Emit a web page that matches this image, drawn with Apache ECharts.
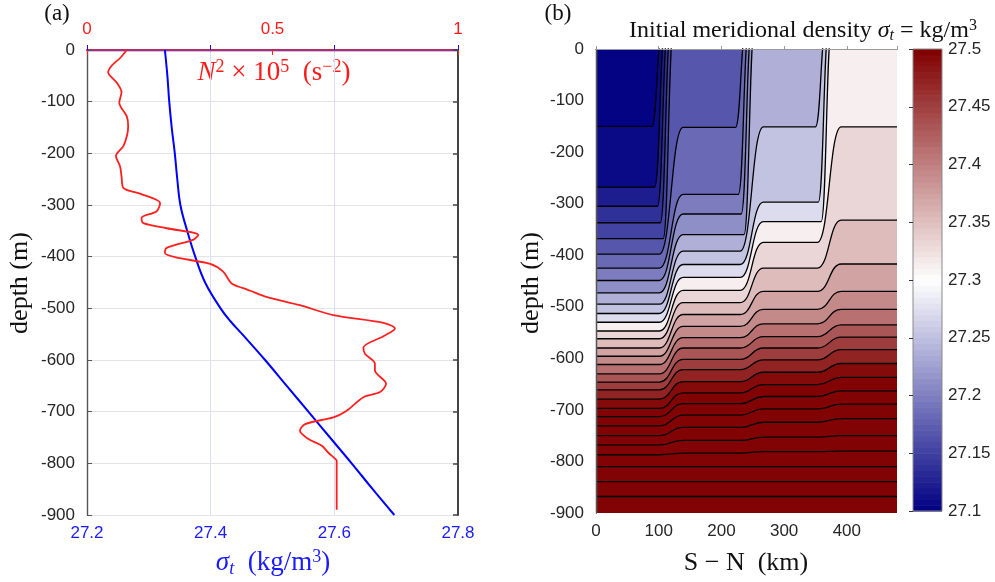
<!DOCTYPE html>
<html>
<head>
<meta charset="utf-8">
<script src="https://cdn.jsdelivr.net/npm/echarts@6/dist/echarts.min.js"></script>
<style>
  html, body { margin: 0; padding: 0; background: #fff; }
  #chart { width: 995px; height: 582px; }
</style>
</head>
<body>
<div id="chart"></div>
<script>
// ---------- Panel (a): reference stratification profile ----------
const profileDepth = [0, 50, 100, 150, 200, 250, 300, 350, 400, 450, 500, 525, 550, 600, 650, 700, 750, 800, 850, 900];
const sigmaT = [27.326, 27.330, 27.333, 27.337, 27.342, 27.346, 27.351, 27.362, 27.375, 27.391, 27.416, 27.432, 27.451, 27.488, 27.523, 27.558, 27.593, 27.628, 27.662, 27.697];

const n2Depth = [0, 15, 30, 43, 63, 82, 102, 128, 147, 165, 186, 205, 225, 244, 267, 278, 296, 312, 325, 335,
  345, 358, 367, 383, 393, 403, 414, 429, 452, 461, 466, 478, 494, 513, 528, 539, 554, 576, 588, 607,
  620, 646, 662, 672, 698, 711, 724, 737, 753, 766, 779, 792, 795, 890];
const n2Values = [0.107, 0.090, 0.067, 0.057, 0.080, 0.093, 0.087, 0.107, 0.111, 0.108, 0.098, 0.078, 0.089, 0.093, 0.098, 0.143, 0.197, 0.188, 0.147, 0.152,
  0.215, 0.300, 0.287, 0.215, 0.210, 0.251, 0.332, 0.367, 0.390, 0.421, 0.440, 0.484, 0.574, 0.664, 0.799, 0.830, 0.799, 0.745, 0.749, 0.776,
  0.776, 0.806, 0.790, 0.745, 0.700, 0.664, 0.588, 0.574, 0.597, 0.633, 0.650, 0.670, 0.673, 0.673];

// ---------- Panel (b): isopycnal depths (m), shallowest first, in the four zones between fronts ----------
// null = the surface has already become denser than this isopycnal (it has outcropped further south)
const zone1Depth = [150, 268, 305, 337, 368, 398, 425, 449, 473, 495, 513, 530, 547, 562, 580, 596, 612, 630, 646, 661, 679, 697, 713, 731, 750, 768, 787, 810, 839, 868];
const zone2Depth = [null, null, null, null, null, 152, 282, 320, 360, 392, 418, 443, 468, 492, 515, 538, 560, 580, 602, 622, 645, 667, 688, 710, 734, 759, 784, 810, 839, 868];
const zone3Depth = [null, null, null, null, null, null, null, null, null, 151, 297, 335, 375, 425, 470, 505, 533, 558, 580, 603, 627, 651, 674, 698, 724, 753, 781, 810, 839, 868];
const zone4Depth = [null, null, null, null, null, null, null, null, null, null, null, null, 151, 332, 417, 470, 505, 535, 559, 583, 610, 637, 663, 689, 717, 750, 780, 810, 839, 868];
// sigma_t of the water lying just beneath each isopycnal, and of the lightest surface water
const bandSigma = [27.105, 27.12, 27.135, 27.15, 27.168, 27.18, 27.195, 27.21, 27.235, 27.25, 27.27, 27.31, 27.33, 27.35, 27.37, 27.39, 27.41, 27.43, 27.45, 27.47, 27.49, 27.51, 27.52, 27.53, 27.54, 27.55, 27.56, 27.57, 27.58, 27.59];
const surfaceSigma = 27.095;
// S-N extent (km) of the three frontal transitions
const frontSpans = [[101, 139], [230, 267], [353, 391]];
const sectionLength = 480;

// colour scale
const cbarMin = 27.1, cbarMax = 27.5, cbarStep = 0.005;

const SANS = '"Liberation Sans", Arial, sans-serif';
const SERIF = '"Liberation Serif", "Times New Roman", serif';
const INK = '#262626';

function sigmaColor(v) {
  let k = Math.floor((v - cbarMin) / cbarStep + 1e-6);
  k = Math.max(0, Math.min(Math.round((cbarMax - cbarMin) / cbarStep) - 1, k));
  const q = cbarMin + (k + 0.5) * cbarStep;
  let t, c0, c1;
  if (q <= 27.3) { t = (q - 27.1) / 0.2; c0 = [0, 0, 130]; c1 = [255, 255, 255]; }
  else { t = (q - 27.3) / 0.2; c0 = [255, 255, 255]; c1 = [128, 0, 0]; }
  return 'rgb(' + c0.map((a, i) => Math.round(a + (c1[i] - a) * t)).join(',') + ')';
}

const zones = [zone1Depth, zone2Depth, zone3Depth, zone4Depth];
const ABOVE_SURFACE = 40;   // outcropped parts run just above the sea surface (clipped)

// isopycnals that outcrop inside a front rise earlier and more steeply; the lightest ones furthest south
function outcropRank(i, k) {
  let r = 0;
  for (let j = i + 1; j < zone1Depth.length; j++) {
    if (zones[k][j] != null && zones[k + 1][j] == null) r++;
  }
  return r;
}
function isopycnalPath(i) {
  const y = zones.map(z => (z[i] == null ? ABOVE_SURFACE : -z[i]));
  const pts = [[0, y[0]]];
  frontSpans.forEach((f, k) => {
    let a = f[0], b = f[1];
    if (zones[k][i] != null && zones[k + 1][i] == null) {
      const r = outcropRank(i, k);
      a = f[0] + 6 - 4.5 * r;
      b = a + 17;
    }
    pts.push([a, y[k]]);
    pts.push([b, y[k + 1]]);
  });
  pts.push([sectionLength, y[3]]);
  return pts;
}

const series = [];
// panel (a)
series.push({
  type: 'line', xAxisIndex: 0, yAxisIndex: 0, symbol: 'none', smooth: 0.4, z: 4, silent: true,
  data: profileDepth.map((d, i) => [sigmaT[i], -d]),
  lineStyle: { color: '#0000ff', width: 2 }
});
series.push({
  type: 'line', xAxisIndex: 1, yAxisIndex: 0, symbol: 'none', smooth: 0.3, z: 5, silent: true,
  data: n2Depth.map((d, i) => [n2Values[i], -d]),
  lineStyle: { color: '#ff1f1f', width: 1.8 }
});
// panel (b): layer fills, lightest first so each denser layer paints over the one above
zone1Depth.forEach((_, i) => {
  series.push({
    type: 'line', xAxisIndex: 2, yAxisIndex: 2, symbol: 'none', smooth: 0.5, smoothMonotone: 'x',
    silent: true, z: 2, data: isopycnalPath(i),
    lineStyle: { width: 0, opacity: 0 },
    areaStyle: { color: sigmaColor(bandSigma[i]), opacity: 1, origin: 'start' }
  });
});
// panel (b): isopycnal contours
zone1Depth.forEach((_, i) => {
  series.push({
    type: 'line', xAxisIndex: 2, yAxisIndex: 2, symbol: 'none', smooth: 0.5, smoothMonotone: 'x',
    silent: true, z: 3, data: isopycnalPath(i),
    lineStyle: { color: '#000', width: 1.3 }
  });
});
// colour bar
const cbarLevels = [];
for (let k = 0; k < Math.round((cbarMax - cbarMin) / cbarStep); k++) cbarLevels.push(+(cbarMin + k * cbarStep).toFixed(3));
series.push({
  type: 'custom', xAxisIndex: 4, yAxisIndex: 4, silent: true, z: 2,
  data: cbarLevels.map(v => [0, v, v + cbarStep]),
  encode: { x: 0, y: [1, 2] },
  renderItem: function (params, api) {
    const lo = api.value(1), hi = api.value(2);
    const pTop = api.coord([0, hi]);
    const pBot = api.coord([1, lo]);
    return {
      type: 'rect',
      shape: { x: pTop[0], y: pTop[1], width: pBot[0] - pTop[0], height: pBot[1] - pTop[1] + 0.6 },
      style: { fill: sigmaColor(lo + cbarStep / 2) }
    };
  }
});

const tickLabel = (color, margin) => ({ color: color, fontFamily: SANS, fontSize: 17, margin: margin });

const option = {
  animation: false,
  backgroundColor: '#ffffff',
  grid: [
    { left: 87, top: 50, width: 371, height: 465, outerBoundsMode: 'none' },
    { left: 596, top: 49, width: 301, height: 464, outerBoundsMode: 'none', show: true,
      backgroundColor: sigmaColor(surfaceSigma), borderWidth: 0 },
    { left: 913, top: 49, width: 29, height: 462, outerBoundsMode: 'none', show: true,
      borderColor: '#8a8a8a', borderWidth: 1, z: 5 }
  ],
  xAxis: [
    { gridIndex: 0, type: 'value', position: 'bottom', min: 27.2, max: 27.8, interval: 0.2,
      axisLine: { lineStyle: { color: '#1010ff', width: 1.3 } },
      axisTick: { inside: true, length: 5, lineStyle: { color: '#1010ff' } },
      axisLabel: Object.assign(tickLabel('#1a1aff', 10), { formatter: v => v.toFixed(1) }),
      splitLine: { show: true, lineStyle: { color: '#dcdcfb', width: 1 } } },
    { gridIndex: 0, type: 'value', position: 'top', min: 0, max: 1, interval: 0.5,
      axisLine: { lineStyle: { color: '#b82a62', width: 2 } },
      axisTick: { inside: true, length: 5, lineStyle: { color: '#ff2020' } },
      axisLabel: tickLabel('#ff1a1a', 12),
      splitLine: { show: false } },
    { gridIndex: 1, type: 'value', position: 'bottom', min: 0, max: sectionLength, interval: 100, z: 10,
      axisLine: { lineStyle: { color: '#333', width: 1.2 } },
      axisTick: { show: false },
      axisLabel: Object.assign(tickLabel(INK, 10), { showMaxLabel: false }),
      splitLine: { show: false } },
    { gridIndex: 1, type: 'value', position: 'top', min: 0, max: sectionLength, interval: 100, z: 10,
      axisLine: { lineStyle: { color: '#9a9a9a', width: 1.2 } },
      axisTick: { show: true, inside: false, length: 3, lineStyle: { color: '#9a9a9a' } },
      axisLabel: { show: false }, splitLine: { show: false } },
    { gridIndex: 2, type: 'value', min: 0, max: 1, show: false }
  ],
  yAxis: [
    { gridIndex: 0, type: 'value', position: 'left', min: -900, max: 0, interval: 100,
      axisLine: { show: true, lineStyle: { color: '#555', width: 1.4 } },
      axisTick: { show: true, inside: true, length: 5, lineStyle: { color: '#555' } },
      axisLabel: tickLabel(INK, 12),
      splitLine: { show: true, lineStyle: { color: '#e4e4e4', width: 1 } } },
    { gridIndex: 0, type: 'value', position: 'right', min: -900, max: 0, interval: 100,
      axisLine: { show: true, lineStyle: { color: '#444', width: 2 } },
      axisTick: { show: true, inside: true, length: 5, lineStyle: { color: '#444', width: 1.5 } },
      axisLabel: { show: false }, splitLine: { show: false } },
    { gridIndex: 1, type: 'value', position: 'left', min: -900, max: 0, interval: 100, z: 10,
      axisLine: { show: true, lineStyle: { color: '#8c8c8c', width: 1.2 } },
      axisTick: { show: false },
      axisLabel: tickLabel(INK, 12),
      splitLine: { show: false } },
    { gridIndex: 1, type: 'value', position: 'right', min: -900, max: 0, interval: 100, z: 10,
      axisLine: { show: true, lineStyle: { color: '#555', width: 1.4 } },
      axisTick: { show: false }, axisLabel: { show: false }, splitLine: { show: false } },
    { gridIndex: 2, type: 'value', position: 'right', min: cbarMin, max: cbarMax, interval: 0.05, z: 10,
      axisLine: { show: false },
      axisTick: { show: true, inside: true, length: 4, lineStyle: { color: '#333' } },
      axisLabel: tickLabel(INK, 6),
      splitLine: { show: false } }
  ],
  graphic: [
    { type: 'text', x: 57, y: 14, style: { text: '(a)', fontFamily: SERIF, fontSize: 23, fill: '#111', align: 'center', verticalAlign: 'middle' } },
    { type: 'text', x: 558, y: 14, style: { text: '(b)', fontFamily: SERIF, fontSize: 23, fill: '#111', align: 'center', verticalAlign: 'middle' } },
    { type: 'text', x: 274, y: 73, style: {
        text: '{i|N}{p|2}{r| × 10}{p|5}{r|  (s}{p|−2}{r|)}', align: 'center', verticalAlign: 'middle',
        rich: {
          i: { fontFamily: SERIF, fontStyle: 'italic', fontSize: 27, fill: '#ff1a1a', lineHeight: 30 },
          r: { fontFamily: SERIF, fontSize: 27, fill: '#ff1a1a', lineHeight: 30 },
          p: { fontFamily: SERIF, fontSize: 18, fill: '#ff1a1a', verticalAlign: 'top', lineHeight: 20 }
        } } },
    { type: 'text', x: 273, y: 563, style: {
        text: '{i|σ}{b|t}{r|  (kg/m}{p|3}{r|)}', align: 'center', verticalAlign: 'middle',
        rich: {
          i: { fontFamily: SERIF, fontStyle: 'italic', fontSize: 27, fill: '#1a1aff', lineHeight: 30 },
          b: { fontFamily: SERIF, fontStyle: 'italic', fontSize: 18, fill: '#1a1aff', verticalAlign: 'bottom', lineHeight: 20 },
          r: { fontFamily: SERIF, fontSize: 27, fill: '#1a1aff', lineHeight: 30 },
          p: { fontFamily: SERIF, fontSize: 18, fill: '#1a1aff', verticalAlign: 'top', lineHeight: 20 }
        } } },
    { type: 'text', x: 20, y: 283, rotation: Math.PI / 2, style: { text: 'depth (m)', fontFamily: SERIF, fontSize: 26, fill: '#111', align: 'center', verticalAlign: 'middle' } },
    { type: 'text', x: 531, y: 283, rotation: Math.PI / 2, style: { text: 'depth (m)', fontFamily: SERIF, fontSize: 26, fill: '#111', align: 'center', verticalAlign: 'middle' } },
    { type: 'text', x: 746, y: 563, style: { text: 'S − N  (km)', fontFamily: SERIF, fontSize: 26, fill: '#111', align: 'center', verticalAlign: 'middle' } },
    { type: 'text', x: 803, y: 31, style: {
        text: '{r|Initial meridional density }{i|σ}{b|t}{r| = kg/m}{p|3}', align: 'center', verticalAlign: 'middle',
        rich: {
          i: { fontFamily: SERIF, fontStyle: 'italic', fontSize: 24, fill: '#111', lineHeight: 26 },
          b: { fontFamily: SERIF, fontStyle: 'italic', fontSize: 16, fill: '#111', verticalAlign: 'bottom', lineHeight: 18 },
          r: { fontFamily: SERIF, fontSize: 24, fill: '#111', lineHeight: 26 },
          p: { fontFamily: SERIF, fontSize: 16, fill: '#111', verticalAlign: 'top', lineHeight: 18 }
        } } }
  ],
  series: series
};

const chart = echarts.init(document.getElementById('chart'), null, { renderer: 'canvas' });
chart.setOption(option);
</script>
</body>
</html>
